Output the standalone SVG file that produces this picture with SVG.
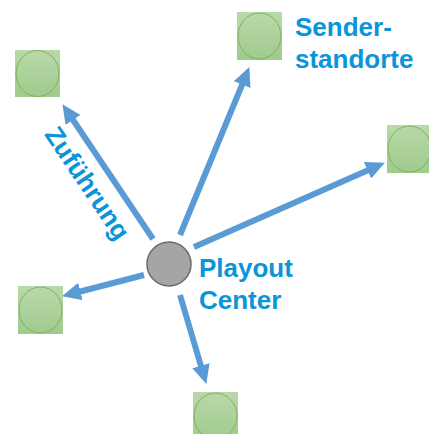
<svg xmlns="http://www.w3.org/2000/svg" width="429" height="434" viewBox="0 0 429 434">
<defs>
<linearGradient id="g" x1="0" y1="0" x2="0" y2="1">
<stop offset="0" stop-color="#bad8ab"/>
<stop offset="1" stop-color="#9fcb8b"/>
</linearGradient>
<marker id="ah" viewBox="0 0 19 18" markerWidth="19" markerHeight="18" refX="6" refY="9" orient="auto" markerUnits="userSpaceOnUse">
<path d="M0,0 L19,9 L0,18 z" fill="#5b9bd5"/>
</marker>
</defs>
<style>
.sq{fill:url(#g)}
.ci{fill:none;stroke:#78b55a;stroke-width:1}
.ar{stroke:#5b9bd5;stroke-width:6;fill:none;marker-end:url(#ah)}
.lb{font-family:"Liberation Sans",Arial,sans-serif;font-weight:bold;font-size:26px;fill:#0a94da}
</style>
<g id="connectors">
<line class="ar" x1="153" y1="239" x2="69.7" y2="115"/>
<line class="ar" x1="180" y1="235" x2="244.4" y2="79.1"/>
<line class="ar" x1="194" y1="247" x2="373" y2="167.9"/>
<line class="ar" x1="144" y1="275" x2="74.6" y2="293"/>
<line class="ar" x1="180" y1="295" x2="202.6" y2="371.5"/>
</g>
<g id="site-top">
<rect class="sq" x="237" y="12" width="45" height="48"/>
<ellipse class="ci" cx="259.5" cy="36" rx="21.5" ry="23"/>
</g>
<g id="site-topleft">
<rect class="sq" x="15" y="50" width="45" height="47"/>
<ellipse class="ci" cx="37.5" cy="73.5" rx="21.5" ry="23"/>
</g>
<g id="site-right">
<rect class="sq" x="387" y="125" width="45" height="48"/>
<ellipse class="ci" cx="409.5" cy="149" rx="21.5" ry="23"/>
</g>
<g id="site-left">
<rect class="sq" x="18" y="286" width="45" height="48"/>
<ellipse class="ci" cx="40.5" cy="310" rx="21.5" ry="23"/>
</g>
<g id="site-bottom">
<rect class="sq" x="193" y="392" width="45" height="48"/>
<ellipse class="ci" cx="215.5" cy="416" rx="21.5" ry="23"/>
</g>
<g id="playout">
<circle cx="169" cy="264" r="22" fill="#a5a5a5" stroke="#6b6b6b" stroke-width="1.5"/>
<text class="lb" x="199" y="277">Playout</text>
<text class="lb" x="199" y="309">Center</text>
</g>
<g id="label-sender">
<text class="lb" x="295" y="36">Sender-</text>
<text class="lb" x="295" y="68">standorte</text>
</g>
<g id="label-zufuhrung">
<text class="lb" text-anchor="middle" transform="translate(80,188) rotate(56)">Zuführung</text>
</g>
</svg>
